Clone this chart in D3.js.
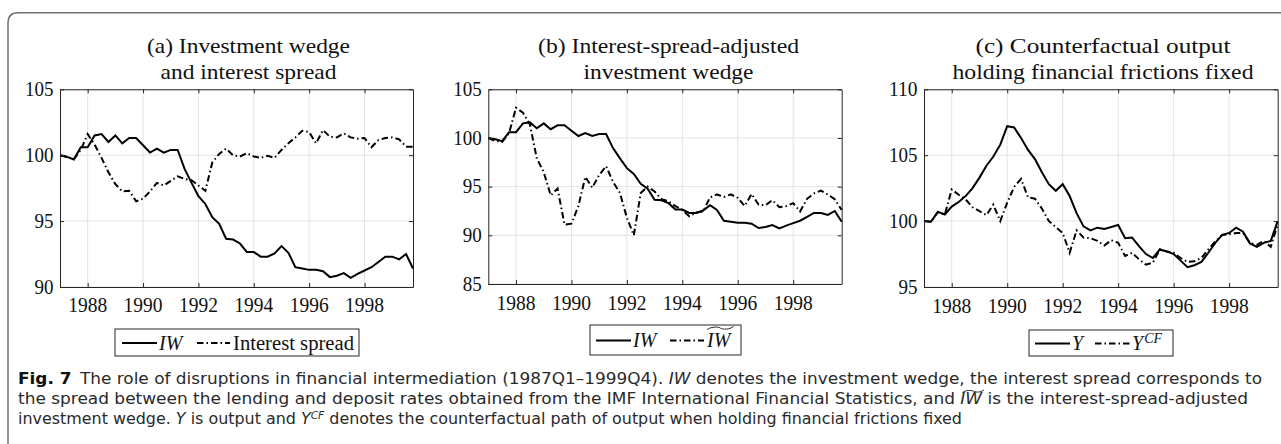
<!DOCTYPE html>
<html>
<head>
<meta charset="utf-8">
<script src="https://cdn.jsdelivr.net/npm/d3@7"></script>
<style>
  body { margin: 0; background: #fff; }
  svg { display: block; }
  .tick-lbl { font-family: "Liberation Serif", "Times New Roman", serif; font-size: 20px; fill: #111; }
  .title { font-family: "Liberation Serif", "Times New Roman", serif; font-size: 21px; fill: #111; }
  .lgd { font-family: "Liberation Serif", "Times New Roman", serif; font-size: 20px; fill: #111; }
  .caption { font-family: "DejaVu Sans Condensed", "Open Sans", sans-serif; font-size: 15px; fill: #2a2a2a; }
</style>
</head>
<body>
<div id="chart"></div>
<script>
// quarterly time axis, 1987Q1 .. 1999Q4
var quarters = d3.range(52).map(function(i) { return 1987 + i / 4; });
var xTicks = [1988, 1990, 1992, 1994, 1996, 1998];

// (a) and (b): investment wedge
var iw = [100.0, 99.87, 99.67, 100.6, 100.6, 101.5, 101.6, 101.0, 101.5, 100.9, 101.3, 101.3,
  100.75, 100.2, 100.5, 100.2, 100.4, 100.4, 98.96, 97.9, 96.9, 96.3, 95.3, 94.8,
  93.66, 93.6, 93.3, 92.65, 92.65, 92.3, 92.3, 92.55, 93.1, 92.6, 91.5, 91.4,
  91.3, 91.3, 91.2, 90.75, 90.85, 91.05, 90.7, 91.0, 91.25, 91.5, 91.9, 92.3,
  92.3, 92.1, 92.5, 91.4];

// (a) interest spread
var spread = [100.0, 99.9, 99.7, 100.4, 101.6, 100.8, 99.8, 98.7, 97.8, 97.25, 97.3, 96.5,
  96.7, 97.25, 97.9, 97.7, 98.05, 98.4, 98.2, 98.1, 97.7, 97.3, 99.45, 100.1,
  100.5, 100.0, 99.9, 100.15, 99.9, 99.8, 99.95, 99.8, 100.4, 100.9, 101.35, 101.85,
  101.75, 100.9, 101.9, 101.4, 101.35, 101.65, 101.35, 101.25, 101.3, 100.6, 101.15, 101.3,
  101.35, 101.2, 100.65, 100.65];

// (b) interest-spread-adjusted investment wedge
var iwAdj = [100.0, 99.7, 99.6, 100.5, 103.1, 102.6, 101.4, 97.9, 96.5, 94.1, 94.8, 91.1,
  91.2, 93.0, 96.0, 94.9, 96.2, 97.1, 95.5, 94.35, 91.8, 90.0, 94.35, 95.0,
  94.5, 93.7, 93.5, 93.0, 92.6, 91.95, 92.35, 92.45, 93.9, 94.2, 93.95, 94.2,
  93.85, 93.0, 94.25, 93.15, 93.1, 93.6, 92.9, 93.0, 93.3, 92.45, 93.75, 94.3,
  94.6, 94.2, 93.7, 92.6];

// (c) output and counterfactual output
var output = [100.0, 99.95, 100.7, 100.5, 101.1, 101.45, 101.9, 102.5, 103.3, 104.2, 104.9, 105.8,
  107.2, 107.1, 106.3, 105.4, 104.7, 103.7, 102.8, 102.3, 102.8, 101.9, 100.6, 99.6,
  99.3, 99.5, 99.4, 99.55, 99.7, 98.7, 98.75, 98.1, 97.5, 97.2, 97.85, 97.7,
  97.5, 97.0, 96.5, 96.65, 96.9, 97.6, 98.35, 98.95, 99.1, 99.5, 99.2, 98.3,
  98.05, 98.35, 98.5, 100.0];
var outputCF = [100.0, 99.95, 100.7, 100.5, 102.4, 102.0, 101.65, 101.05, 100.75, 100.45, 101.25, 100.0,
  101.4, 102.6, 103.2, 101.8, 101.7, 100.95, 100.0, 99.55, 99.1, 97.6, 99.3, 98.75,
  98.7, 98.5, 98.15, 98.55, 98.35, 97.35, 97.6, 97.1, 96.7, 96.85, 97.85, 97.7,
  97.6, 97.2, 96.9, 96.95, 97.2, 97.85, 98.45, 98.95, 99.0, 99.1, 99.1, 98.35,
  98.2, 98.5, 98.05, 99.75];

var yTicksA = [90, 95, 100, 105];
var yTicksB = [85, 90, 95, 100, 105];
var yTicksC = [95, 100, 105, 110];

var svgWidth = 1281, svgHeight = 444;

var svg = d3.select("#chart")
  .append("svg")
  .attr("width", svgWidth)
  .attr("height", svgHeight);

// outer frame with rounded top-left corner
svg.append("path")
  .attr("d", "M8,444 V23 Q8,12.7 18,12.7 H1281")
  .attr("fill", "none")
  .attr("stroke", "#707070")
  .attr("stroke-width", 1.5);

var panels = [
  { left: 60, right: 413, top: 89.3, bottom: 287, domain: [90, 105], yTicks: yTicksA,
    title: ["(a) Investment wedge", "and interest spread"], titleW: [203, 176], titleX: 248.5, tickY: 312,
    series: [iw, spread], legend: { x0: 115, x1: 359, y0: 329, y1: 356, key: "a" } },
  { left: 488.3, right: 841.7, top: 89.3, bottom: 284, domain: [85, 105], yTicks: yTicksB,
    title: ["(b) Interest-spread-adjusted", "investment wedge"], titleW: [261, 170], titleX: 668.5, tickY: 310,
    series: [iw, iwAdj], legend: { x0: 590, x1: 741, y0: 325, y1: 355, key: "b" } },
  { left: 924, right: 1277.7, top: 89.3, bottom: 287, domain: [95, 110], yTicks: yTicksC,
    title: ["(c) Counterfactual output", "holding financial frictions fixed"], titleW: [255, 301], titleX: 1103, tickY: 312.5,
    series: [output, outputCF], legend: { x0: 1029, x1: 1173, y0: 330, y1: 356, key: "c" } }
];

var dashDot = "6.5,3,1.5,3";

panels.forEach(function(p) {
  var x = d3.scaleLinear().domain([1987, 1999.75]).range([p.left, p.right]);
  var y = d3.scaleLinear().domain(p.domain).range([p.bottom, p.top]);
  var g = svg.append("g");

  // grid
  g.selectAll(".gx").data(xTicks).enter().append("line")
    .attr("x1", d => x(d)).attr("x2", d => x(d))
    .attr("y1", p.top).attr("y2", p.bottom)
    .attr("stroke", "#e3e3e3").attr("stroke-width", 1);
  g.selectAll(".gy").data(p.yTicks).enter().append("line")
    .attr("x1", p.left).attr("x2", p.right)
    .attr("y1", d => y(d)).attr("y2", d => y(d))
    .attr("stroke", "#e3e3e3").attr("stroke-width", 1);

  // lines
  var line = d3.line()
    .x((d, i) => x(quarters[i]))
    .y(d => y(d));
  g.append("path").datum(p.series[1])
    .attr("d", line).attr("fill", "none")
    .attr("stroke", "#000").attr("stroke-width", 2)
    .attr("stroke-dasharray", dashDot);
  g.append("path").datum(p.series[0])
    .attr("d", line).attr("fill", "none")
    .attr("stroke", "#000").attr("stroke-width", 2);

  // axes, MATLAB style box with inward ticks
  var tl = 4;
  var bottomAxis = d3.axisBottom(x).tickValues(xTicks).tickSizeInner(-tl).tickSizeOuter(0).tickFormat("");
  var topAxis = d3.axisTop(x).tickValues(xTicks).tickSizeInner(-tl).tickSizeOuter(0).tickFormat("");
  var leftAxis = d3.axisLeft(y).tickValues(p.yTicks).tickSizeInner(-tl).tickSizeOuter(0).tickFormat("");
  var rightAxis = d3.axisRight(y).tickValues(p.yTicks).tickSizeInner(-tl).tickSizeOuter(0).tickFormat("");
  [[bottomAxis, `translate(0,${p.bottom})`], [topAxis, `translate(0,${p.top})`],
   [leftAxis, `translate(${p.left},0)`], [rightAxis, `translate(${p.right},0)`]].forEach(function(a) {
    var ax = g.append("g").attr("transform", a[1]).call(a[0]);
    ax.selectAll("path,line").attr("stroke", "#262626").attr("stroke-width", 1);
  });

  // tick labels
  g.selectAll(".xl").data(xTicks).enter().append("text")
    .attr("class", "tick-lbl")
    .attr("x", d => x(d)).attr("y", p.tickY)
    .attr("text-anchor", "middle")
    .attr("textLength", 39).attr("lengthAdjust", "spacingAndGlyphs")
    .text(d => d);
  g.selectAll(".yl").data(p.yTicks).enter().append("text")
    .attr("class", "tick-lbl")
    .attr("x", p.left - 6.5).attr("y", d => y(d) + 6.8)
    .attr("text-anchor", "end")
    .attr("textLength", d => String(d).length * 9.5).attr("lengthAdjust", "spacingAndGlyphs")
    .text(d => d);

  // title
  p.title.forEach(function(t, i) {
    g.append("text").attr("class", "title")
      .attr("x", p.titleX).attr("y", 52.5 + i * 26.5)
      .attr("text-anchor", "middle")
      .attr("textLength", p.titleW[i]).attr("lengthAdjust", "spacingAndGlyphs")
      .text(t);
  });

  // legend
  var L = p.legend;
  g.append("rect")
    .attr("x", L.x0).attr("y", L.y0)
    .attr("width", L.x1 - L.x0).attr("height", L.y1 - L.y0)
    .attr("fill", "#fff").attr("stroke", "#262626").attr("stroke-width", 1);
  var ly = (L.y0 + L.y1) / 2 + 0.5;
  var items;
  if (L.key === "a") items = [{ x: 122, w: 35, dash: null, lx: 159 }, { x: 197, w: 33, dash: dashDot, lx: 233 }];
  else if (L.key === "b") items = [{ x: 596, w: 35, dash: null, lx: 633 }, { x: 670, w: 34, dash: dashDot, lx: 707 }];
  else items = [{ x: 1035, w: 35, dash: null, lx: 1072 }, { x: 1095, w: 35, dash: dashDot, lx: 1132 }];

  items.forEach(function(it, i) {
    g.append("line")
      .attr("x1", it.x).attr("x2", it.x + it.w)
      .attr("y1", ly).attr("y2", ly)
      .attr("stroke", "#000").attr("stroke-width", 2)
      .attr("stroke-dasharray", it.dash);
    var t = g.append("text").attr("class", "lgd")
      .attr("x", it.lx).attr("y", ly + 6.5);
    if (L.key === "a") {
      if (i === 0) t.append("tspan").attr("font-style", "italic").text("IW");
      else t.attr("textLength", 121).attr("lengthAdjust", "spacingAndGlyphs").text("Interest spread");
    } else if (L.key === "b") {
      t.append("tspan").attr("font-style", "italic").text("IW");
      if (i === 1) {
        var bb = t.node().getBBox();
        var tx0 = bb.x + 1, tx1 = bb.x + bb.width + 1, ty = bb.y - 1;
        var tw = tx1 - tx0;
        g.append("path")
          .attr("d", `M${tx0},${ty + 1.5} C${tx0 + tw * 0.25},${ty - 2.5} ${tx0 + tw * 0.5},${ty - 0.5} ${tx0 + tw * 0.5},${ty}` +
                     ` S${tx0 + tw * 0.75},${ty + 3} ${tx1},${ty - 1.5}`)
          .attr("fill", "none").attr("stroke", "#111").attr("stroke-width", 0.9);
      }
    } else {
      t.append("tspan").attr("font-style", "italic").text("Y");
      if (i === 1) {
        t.append("tspan").attr("font-style", "italic").attr("font-size", "14px")
          .attr("baseline-shift", "7px").attr("dx", 1).text("CF");
      }
    }
  });
});

// caption
var capLines = [
  [["b", "Fig. 7"], ["n", "\u2002The role of disruptions in financial intermediation (1987Q1\u20131999Q4). "], ["i", "IW"],
   ["n", " denotes the investment wedge, the interest spread corresponds to"]],
  [["n", "the spread between the lending and deposit rates obtained from the IMF International Financial Statistics, and "],
   ["i", "IW"], ["n", " is the interest-spread-adjusted"]],
  [["n", "investment wedge. "], ["i", "Y"], ["n", " is output and "], ["i", "Y"], ["s", "CF"],
   ["n", " denotes the counterfactual path of output when holding financial frictions fixed"]]
];
var capY = [383.5, 404, 424];
var capW = [1244, 1230, 944];

var capNodes = [];
capLines.forEach(function(parts, li) {
  var t = svg.append("text").attr("class", "caption")
    .attr("x", 18).attr("y", capY[li])
    .attr("textLength", capW[li]).attr("lengthAdjust", "spacingAndGlyphs");
  var spans = [];
  parts.forEach(function(pt) {
    var s = t.append("tspan").text(pt[1]);
    if (pt[0] === "b") s.attr("font-weight", "bold").attr("fill", "#111");
    if (pt[0] === "i") s.attr("font-style", "italic");
    if (pt[0] === "s") s.attr("font-style", "italic").attr("font-size", "10px").attr("baseline-shift", "5px");
    spans.push(s.node());
  });
  capNodes.push(spans);
});

// tilde over IW in the caption, line 2
var cb = capNodes[1][1].getBBox();
var cx0 = cb.x + 2, cx1 = cb.x + cb.width + 1, cty = cb.y + 1;
var cw = cx1 - cx0;
svg.append("path")
  .attr("d", `M${cx0},${cty + 1.5} C${cx0 + cw * 0.25},${cty - 2} ${cx0 + cw * 0.5},${cty} ${cx0 + cw * 0.5},${cty}` +
             ` S${cx0 + cw * 0.75},${cty + 3} ${cx1},${cty - 1}`)
  .attr("fill", "none").attr("stroke", "#2a2a2a").attr("stroke-width", 1);
</script>
</body>
</html>
